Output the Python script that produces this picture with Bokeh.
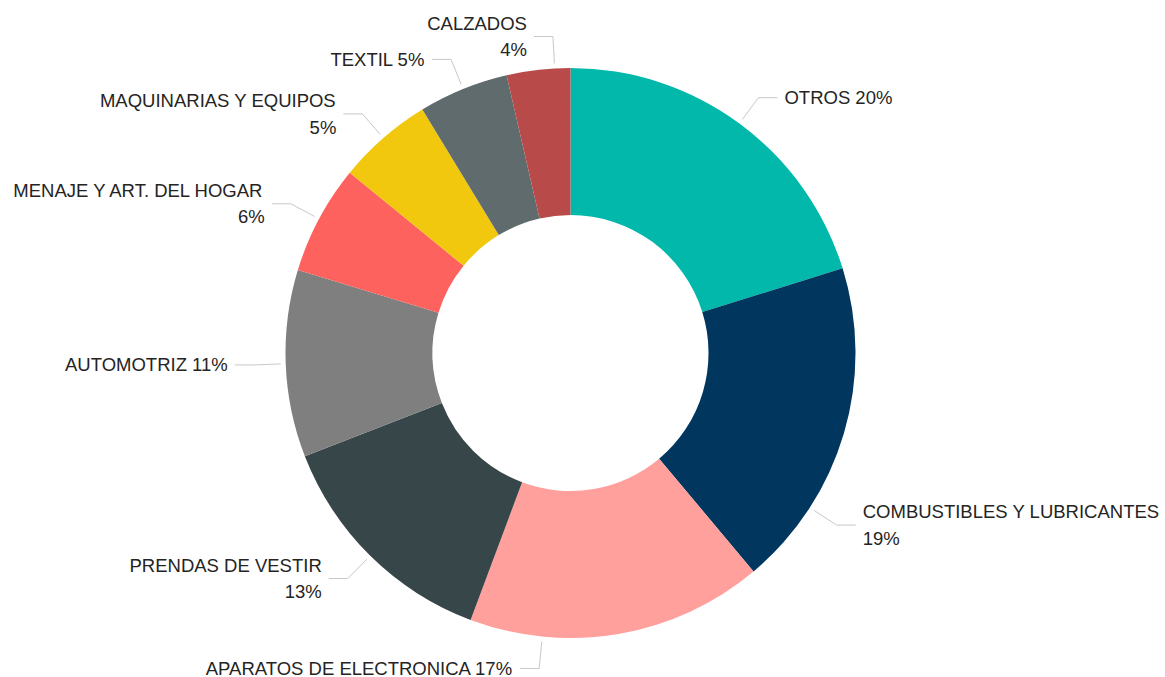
import math
from bokeh.plotting import figure
from bokeh.models import Range1d
from bokeh.core.properties import value
from bokeh.embed import file_html
from bokeh.resources import INLINE

# ---- data ----
categories = ["OTROS", "COMBUSTIBLES Y LUBRICANTES", "APARATOS DE ELECTRONICA",
              "PRENDAS DE VESTIR", "AUTOMOTRIZ", "MENAJE Y ART. DEL HOGAR",
              "MAQUINARIAS Y EQUIPOS", "TEXTIL", "CALZADOS"]
shares = [20.2, 18.7, 16.8, 13.4, 10.6, 6.2, 5.4, 5.1, 3.6]
colors = ["#01B8AA", "#01375F", "#FFA09C", "#374649", "#7F7F7F",
          "#FD625E", "#F2C80F", "#5F6B6D", "#B84B4A"]

# ---- layout (style only) ----
wrap = [False, True, False, True, False, True, True, False, True]
leader_shift_deg = [0, 16.5, 15.4, 0, 0, 0, 0, 0, 3.3]

W, H = 1165, 677
p = figure(width=W, height=H, output_backend="svg", toolbar_location=None,
           x_range=Range1d(0, W), y_range=Range1d(-H, 0),
           min_border=0)
p.axis.visible = False
p.grid.visible = False
p.outline_line_color = None
p.background_fill_color = "white"

cx, cy = 570, -352.5
r_out, r_in = 285, 138

total = sum(shares)
cum = 0.0
starts, ends, mids = [], [], []
for s in shares:
    a0 = math.pi / 2 - 2 * math.pi * cum / total
    cum += s
    a1 = math.pi / 2 - 2 * math.pi * cum / total
    starts.append(a0)
    ends.append(a1)
    mids.append((a0 + a1) / 2)

p.annular_wedge(x=cx, y=cy, inner_radius=r_in, outer_radius=r_out,
                start_angle=starts, end_angle=ends, direction="clock",
                fill_color=colors, line_color=None)

font = value("Liberation Sans")
for i, cat in enumerate(categories):
    ang = mids[i] - math.radians(leader_shift_deg[i])
    c, s = math.cos(ang), math.sin(ang)
    x0, y0 = cx + 290 * c, cy + 290 * s
    x1, y1 = cx + 317 * c, cy + 317 * s
    side = 1 if c >= 0 else -1
    x2 = x1 + side * 19
    p.line([x0, x1, x2], [y0, y1, y1], line_color="#C8C8C8", line_width=1)
    pct = f"{int(shares[i] + 0.5)}%"
    label = f"{cat}\n{pct}" if wrap[i] else f"{cat} {pct}"
    p.text(x=[x2 + side * 7], y=[y1], text=[label],
           text_align="left" if side > 0 else "right",
           text_baseline="middle", text_font=font,
           text_font_size="18.5px", text_color="#252423",
           text_line_height=1.25)

open("out.html", "w").write(file_html(p, INLINE))
